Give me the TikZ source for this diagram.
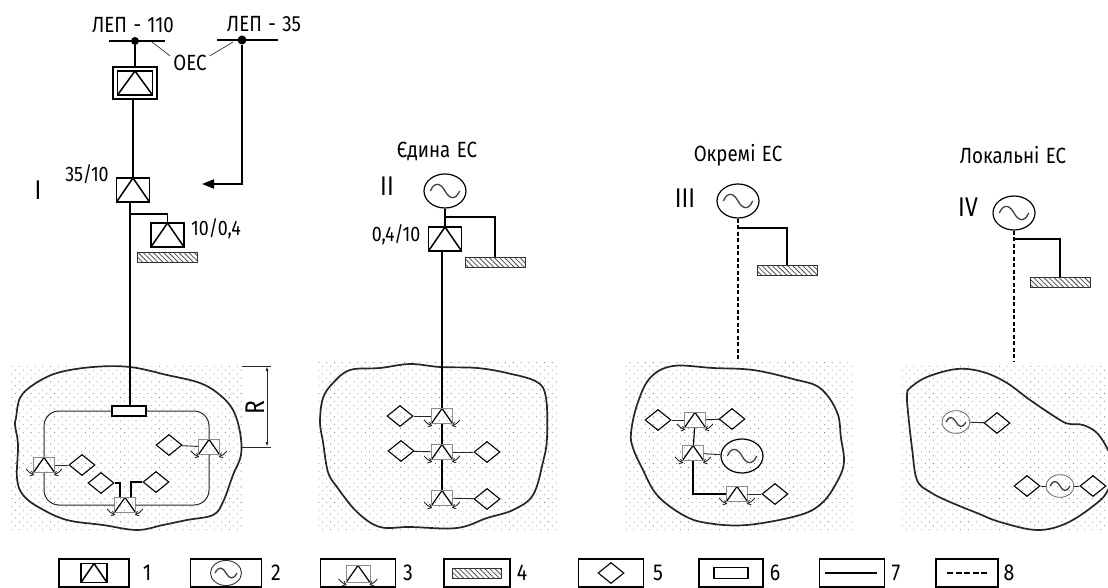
\documentclass[tikz,border=0pt]{standalone}
\usepackage{fontspec}
\setmainfont{Fira Sans}[FakeStretch=0.85, WordSpace=1.3]
\usetikzlibrary{positioning, calc, shapes.geometric, patterns.meta, arrows.meta}

\tikzset{
  % Block styles
  trafo/.style={
    rectangle, draw=black, line width=1.5pt, inner sep=0pt,
    minimum width=33pt, minimum height=24pt,
    path picture={\draw[line width=1.5pt]
      (path picture bounding box.south west) --
      (path picture bounding box.north) --
      (path picture bounding box.south east);}
  },
  trafo-small/.style={trafo, line width=1.2pt, minimum width=26pt, minimum height=19pt},
  trafo-outer/.style={rectangle, draw=black, line width=1.3pt, inner sep=0pt, minimum width=44pt, minimum height=32pt},
  subst/.style={
    rectangle, draw=black!45, line width=.8pt, inner sep=0pt,
    minimum width=21pt, minimum height=15pt,
    path picture={\draw[black, line width=1.2pt]
      (path picture bounding box.south west) --
      (path picture bounding box.north) --
      (path picture bounding box.south east);},
    append after command={
      \pgfextra{\draw[black!85, line width=.9pt, -{Straight Barb[length=3pt,width=5pt]}]
        ($(\tikzlastnode.south west)+(-7pt,4pt)$) to[bend right=15] ($(\tikzlastnode.south west)+(1pt,-2pt)$);
      \draw[black!85, line width=.9pt, -{Straight Barb[length=3pt,width=5pt]}]
        ($(\tikzlastnode.south east)+(7pt,4pt)$) to[bend left=15] ($(\tikzlastnode.south east)+(-1pt,-2pt)$);}
    }
  },
  gen/.style={
    ellipse, draw=black, line width=1.2pt, inner sep=0pt,
    minimum width=#1, minimum height=.81*#1,
    path picture={\draw[black!75, line width=1.3pt]
      ($(path picture bounding box.center)+(-.35*#1,0)$)
      .. controls +(.11*#1,.24*#1) and +(-.1*#1,.18*#1) .. (path picture bounding box.center)
      .. controls +(.1*#1,-.18*#1) and +(-.11*#1,-.24*#1) ..
      ($(path picture bounding box.center)+(.35*#1,0)$);}
  },
  gen/.default=42pt,
  gen-small/.style={gen=28pt, draw=black!60, line width=.8pt},
  load/.style={
    diamond, draw=black, line width=1.1pt, inner sep=0pt, aspect=1.25,
    minimum width=26pt, minimum height=21pt
  },
  hatchbar/.style={
    rectangle, draw=black!80, line width=.9pt, inner sep=0pt,
    minimum width=60pt, minimum height=10pt,
    pattern={Lines[angle=-45,distance=3.6pt,line width=.8pt]}, pattern color=black!70
  },
  splitter/.style={
    rectangle, draw=black, line width=1.2pt, inner sep=0pt,
    minimum width=34pt, minimum height=10pt, fill=white
  },
  legendbox/.style={rectangle, draw=black, line width=1.3pt, inner sep=0pt, minimum height=28pt},
  lab/.style={font=\fontsize{#1}{#1}\selectfont, inner sep=0pt},
  lab/.default=21pt,
  zonefield/.style={pattern={Dots[angle=45,distance=5.5pt,radius=.55pt]}, pattern color=black!55},
  zone/.style={draw=black!85, line width=1.7pt},
  wire/.style={draw=black, line width=1.2pt},
  feeder/.style={draw=black, line width=1.6pt},
  dashfeeder/.style={draw=black, line width=1.6pt, dash pattern=on 4pt off 2.5pt},
  ringline/.style={draw=black!85, line width=1pt, rounded corners=15pt},
  thin wire/.style={draw=black!85, line width=.9pt},
}

\begin{document}
\begin{tikzpicture}[x=1pt, y=-1pt]
  \useasboundingbox (0,0) rectangle (1108,588);

  % === Top left, system I ===
  \node[lab=22pt] (lep110) at (133,25) {ЛЕП - 110};
  \node[lab=22pt] (lep35) at (264,24) {ЛЕП - 35};
  \node[lab=22pt] (oec) at (190,63) {ОЕС};
  \coordinate (bus110w) at (109,41);
  \coordinate (bus110e) at (165,41);
  \coordinate (bus35w) at (217,40);
  \coordinate (bus35e) at (278,40);
  \node[circle, fill=black, inner sep=0pt, minimum size=8pt] (tap110) at (135,41) {};
  \node[circle, fill=black, inner sep=0pt, minimum size=9pt] (tap35) at (242,40) {};
  \draw[wire] (bus110w) -- (bus110e);
  \draw[feeder] (bus35w) -- (bus35e);
  \coordinate (oecl) at (152,42);
  \coordinate (oecr) at (233,42);
  \draw[black!80, line width=.7pt] ([xshift=-3pt,yshift=-1pt]oec.north west) -- (oecl);
  \draw[black!80, line width=.7pt] ([xshift=3pt,yshift=-1pt]oec.north east) -- (oecr);

  \node[trafo-outer] (tr110o) at (135,83) {};
  \node[trafo, minimum width=35pt] (tr110) at (135,83) {};
  \node[trafo] (tr35) at (133,190) {};
  \node[trafo, right=0pt of tr35, yshift=-45pt] (tr10) {};
  \node[hatchbar] (bar1) at (167,257) {};
  \node[lab] (lab3510) at (87,174) {35/10};
  \node[lab] (lab1004) at (216,229) {10/0,4};
  \node[lab=27pt] (numI) at (38,190) {I};

  \draw[feeder] (tap110) -- (tr110o);
  \draw[feeder] (tr110o.south -| tr35.north) -- (tr35.north);
  \coordinate (arrow35) at (202,184);
  \draw[feeder, line width=2pt, -{Triangle[length=12pt,width=9pt]}] (tap35) |- (arrow35);

  % === Zone I ===
  \path[zonefield] (11,364) rectangle (243,532);
  \draw[zone] plot[smooth cycle, tension=.6] coordinates {
    (16,418) (20,398) (33,385) (57,373) (93,367) (130,367) (167,375) (200,383) (220,395)
    (233,410) (240,432) (241,455) (233,475) (223,502) (213,515) (187,520) (163,525)
    (137,530) (103,525) (67,520) (40,508) (23,495) (17,478) (18,445) (15,425)};
  \node[splitter] (split1) at (129,411) {};
  \node[subst] (sub1a) at (44,465) {};
  \node[subst] (sub1b) at (209,447) {};
  \node[subst] (sub1c) at (125,505) {};
  \node[load] (load1a) at (82,465) {};
  \node[load] (load1b) at (169,445) {};
  \node[load] (load1c) at (101,483) {};
  \node[load] (load1d) at (156,482) {};
  \draw[ringline] (split1.west) -| (sub1a.north);
  \draw[ringline] (sub1a.south) |- (sub1c.west);
  \draw[ringline] (split1.east) -| (sub1b.north);
  \draw[ringline] (sub1b.south) |- (sub1c.east);
  \draw[thin wire] (load1a) -- (sub1a);
  \draw[thin wire] (load1b) -- (sub1b);
  \draw[wire] (load1c.east) -| ([xshift=-5pt]sub1c.north);
  \draw[wire] (load1d.west) -| ([xshift=6pt]sub1c.north);

  \draw[feeder] ([xshift=-3pt]tr35.south) -- ([xshift=1pt]split1.north);
  \coordinate (branch1) at (130,214);
  \draw[wire] (branch1) -| (tr10.north);

  % R size
  \coordinate (dimtop) at (242,366);
  \coordinate (dimbot) at (241,447);
  \coordinate (dimup) at (267,366);
  \coordinate (dimdn) at (267,447);
  \draw[thin wire] (dimtop) -- +(29,0);
  \draw[thin wire] (dimbot) -- +(30,0);
  \draw[thin wire, {Latex[length=5pt,width=3pt]}-{Latex[length=5pt,width=3pt]}] (dimup) -- (dimdn);
  \node[lab=27pt, rotate=90] (dimR) at (255,408) {R};

  % === System II ===
  \node[lab=22pt] (titleII) at (437,151) {Єдина ЕС};
  \node[lab=27pt] (numII) at (387,186) {II};
  \node[gen] (gen2) at (445,191) {};
  \node[trafo] (tr2) at (445,239) {};
  \node[hatchbar] (bar2) at (495,262) {};
  \node[lab] (lab0410) at (396,235) {0,4/10};
  \draw[feeder] (gen2) -- (tr2);
  \coordinate (branch2) at (445,217);
  \draw[wire] (branch2) -| (bar2.north);

  \path[zonefield] (318,362) rectangle (557,530);
  \draw[zone] plot[smooth cycle, tension=.6] coordinates {
    (320,422) (323,398) (333,383) (350,370) (380,368) (410,364) (440,367) (477,368)
    (507,373) (537,382) (546,398) (547,438) (543,462) (533,495) (513,510) (487,518)
    (457,528) (410,527) (380,527) (357,512) (337,487) (328,472) (323,442)};
  \node[subst] (sub2a) at (442,416) {};
  \node[subst] (sub2b) at (442,452) {};
  \node[subst] (sub2c) at (442,498) {};
  \node[load] (load2a) at (400,416) {};
  \node[load] (load2b) at (401,451) {};
  \node[load] (load2c) at (487,452) {};
  \node[load] (load2d) at (487,499) {};
  \draw[feeder] (tr2.south -| sub2a.north) -- (sub2a.north);
  \draw[wire] (sub2a) -- (sub2b);
  \draw[wire] (sub2b) -- (sub2c);
  \draw[thin wire] (load2a) -- (sub2a);
  \draw[thin wire] (load2b) -- (sub2b);
  \draw[thin wire] (load2c) -- (sub2b);
  \draw[thin wire] (load2d) -- (sub2c);

  % === System III ===
  \node[lab=22pt] (titleIII) at (738,155) {Окремі ЕС};
  \node[lab=27pt] (numIII) at (685,198) {III};
  \node[gen] (gen3) at (738,201) {};
  \node[hatchbar] (bar3) at (787,270) {};
  \coordinate (drop3) at (738,361);
  \draw[dashfeeder] (gen3) -- (drop3);
  \coordinate (branch3) at (738,228);
  \draw[wire] (branch3) -| (bar3.north);

  \path[zonefield] (625,362) rectangle (853,530);
  \draw[zone] plot[smooth cycle, tension=.6] coordinates {
    (631,433) (637,405) (650,378) (673,366) (713,368) (753,370) (793,379) (820,388)
    (837,412) (841,438) (844,462) (838,480) (823,502) (800,515) (747,525) (707,523)
    (683,515) (657,495) (642,468) (633,448)};
  \node[subst] (sub3a) at (695,420) {};
  \node[subst] (sub3b) at (693,453) {};
  \node[subst] (sub3c) at (737,494) {};
  \node[load] (load3a) at (658,420) {};
  \node[load] (load3b) at (732,419) {};
  \node[load] (load3c) at (775,494) {};
  \node[gen] (gen3b) at (742,456) {};
  \draw[wire] (sub3a) -- (sub3b);
  \draw[wire] (sub3b) |- (sub3c);
  \draw[thin wire] (load3a) -- (sub3a);
  \draw[thin wire] (load3b) -- (sub3a);
  \draw[thin wire] (load3c) -- (sub3c);
  \draw[thin wire] (gen3b) -- (sub3b);

  % === System IV ===
  \node[lab=22pt] (titleIV) at (1013,155) {Локальні ЕС};
  \node[lab=27pt] (numIV) at (968,207) {IV};
  \node[gen] (gen4) at (1014,213) {};
  \node[hatchbar] (bar4) at (1060,282) {};
  \coordinate (drop4) at (1014,362);
  \draw[dashfeeder] (gen4) -- (drop4);
  \coordinate (branch4) at (1014,239);
  \draw[wire] (branch4) -| (bar4.north);

  \path[zonefield] (902,364) rectangle (1108,532);
  \draw[zone] plot[smooth cycle, tension=.6] coordinates {
    (907,395) (910,388) (927,377) (957,369) (983,372) (1007,383) (1030,400) (1060,420)
    (1070,424) (1083,425) (1097,433) (1108,450) (1115,470) (1108,490) (1097,503) (1067,523)
    (1037,530) (1000,522) (977,513) (950,502) (930,492) (917,480) (912,448) (908,412)};
  \node[gen-small] (gen4a) at (956,422) {};
  \node[gen-small] (gen4b) at (1060,486) {};
  \node[load] (load4a) at (997,423) {};
  \node[load] (load4b) at (1027,486) {};
  \node[load] (load4c) at (1093,486) {};
  \draw[thin wire] (gen4a) -- (load4a);
  \draw[thin wire] (gen4b) -- (load4b);
  \draw[thin wire] (gen4b) -- (load4c);

  % === Legend ===
  \node[legendbox, minimum width=70pt] (leg1) at (94,573) {};
  \node[legendbox, minimum width=71pt] (leg2) at (226,573) {};
  \node[legendbox, minimum width=75pt] (leg3) at (358,573) {};
  \node[legendbox, minimum width=66pt] (leg4) at (477,573) {};
  \node[legendbox, minimum width=65pt] (leg5) at (611,573) {};
  \node[legendbox, minimum width=64pt] (leg6) at (731,573) {};
  \node[legendbox, minimum width=65pt] (leg7) at (852,573) {};
  \node[legendbox, minimum width=62pt] (leg8) at (967,573) {};

  \node[trafo-small] (sym1) at (leg1) {};
  \node[gen=31pt, draw=black!80, line width=.9pt] (sym2) at (leg2) {};
  \node[subst, minimum width=24pt, minimum height=17pt] (sym3) at ([yshift=-1pt]leg3.center) {};
  \node[hatchbar, minimum width=49pt] (sym4) at (leg4) {};
  \node[load] (sym5) at (leg5) {};
  \node[splitter, minimum height=11pt] (sym6) at (leg6) {};
  \coordinate (leg7a) at (825,573);
  \coordinate (leg7b) at (877,573);
  \draw[wire] (leg7a) -- (leg7b);
  \coordinate (leg8a) at (947,573);
  \coordinate (leg8b) at (987,573);
  \draw[black, line width=1.2pt, dash pattern=on 6pt off 2.5pt] (leg8a) -- (leg8b);

  \node[lab=23pt] (num1) at (147,573) {1};
  \node[lab=23pt] (num2) at (276,573) {2};
  \node[lab=23pt] (num3) at (408,573) {3};
  \node[lab=23pt] (num4) at (522,573) {4};
  \node[lab=23pt] (num5) at (658,573) {5};
  \node[lab=23pt] (num6) at (775,573) {6};
  \node[lab=23pt] (num7) at (896,573) {7};
  \node[lab=23pt] (num8) at (1009,573) {8};
\end{tikzpicture}
\end{document}
